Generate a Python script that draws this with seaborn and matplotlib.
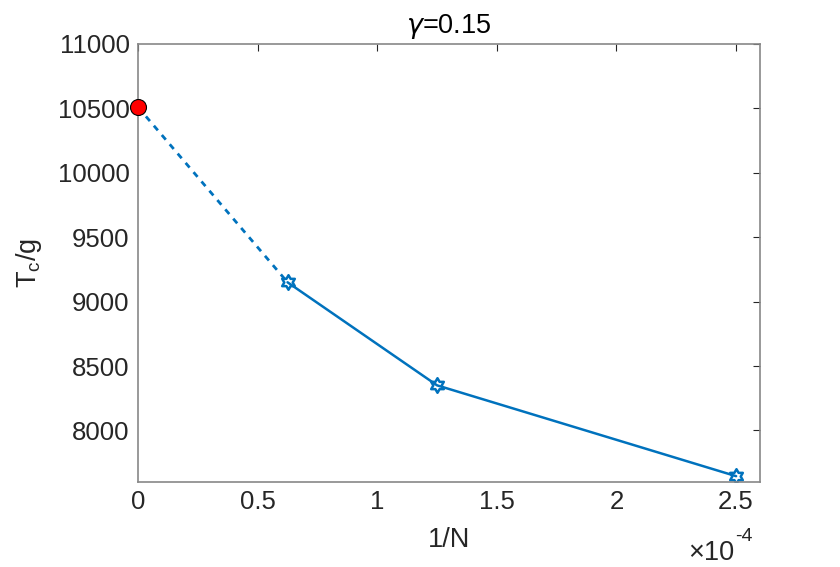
import numpy as np
import pandas as pd
import seaborn as sns
import matplotlib.pyplot as plt
from matplotlib.path import Path
from matplotlib.ticker import FixedLocator, FuncFormatter

sns.set_style("white")
plt.rcParams['font.family'] = ['Liberation Sans', 'DejaVu Sans']
plt.rcParams['mathtext.fontset'] = 'custom'
plt.rcParams['mathtext.rm'] = 'Liberation Sans'
plt.rcParams['mathtext.it'] = 'DejaVu Sans:italic'

# data
inv_n = [0.625e-4, 1.25e-4, 2.5e-4]
tc_g = [9150, 8350, 7645]
extrap_x = 0.0
extrap_y = 10510

xticks = [0, 0.5e-4, 1e-4, 1.5e-4, 2e-4, 2.5e-4]
xtick_labels = ['0', '0.5', '1', '1.5', '2', '2.5']
yticks = [8000, 8500, 9000, 9500, 10000, 10500, 11000]

blue = '#0072BD'
spine_col = '#888888'
text_col = '#262626'

# hexagram marker (two overlapping triangles, outline)
ang_out = np.deg2rad(90 + 60 * np.arange(6))
ang_in = np.deg2rad(120 + 60 * np.arange(6))
r_in = 1 / np.sqrt(3)
verts = []
for a, b in zip(ang_out, ang_in):
    verts.append((np.cos(a), np.sin(a)))
    verts.append((r_in * np.cos(b), r_in * np.sin(b)))
verts.append(verts[0])
hexagram = Path(verts, closed=True)

main_df = pd.DataFrame({'x': inv_n, 'y': tc_g})
dash_df = pd.DataFrame({'x': [extrap_x, inv_n[0]], 'y': [extrap_y, tc_g[0]]})

fig = plt.figure(figsize=(8.4, 5.67), dpi=100)
ax = fig.add_axes([0.1643, 0.15, 0.7405, 0.7724])

sns.lineplot(data=dash_df, x='x', y='y', ax=ax, color=blue, lw=2,
             linestyle=(0, (2.2, 2.2)), sort=False)
sns.lineplot(data=main_df, x='x', y='y', ax=ax, color=blue, lw=1.8,
             marker=hexagram, markersize=10.5, markerfacecolor='none',
             markeredgecolor=blue, markeredgewidth=1.8, sort=False)
ax.plot([extrap_x], [extrap_y], marker='o', ms=11.5, mfc='#ff0000',
        mec='black', mew=0.8, clip_on=False, zorder=5)

ax.set_xlim(0, 2.6e-4)
ax.set_ylim(7600, 11000)
ax.xaxis.set_major_locator(FixedLocator(xticks))
ax.xaxis.set_major_formatter(FuncFormatter(lambda v, p: xtick_labels[xticks.index(v)] if v in xticks else ''))
ax.set_yticks(yticks)

ax.tick_params(direction='in', length=5, width=0.8, top=True, right=True,
               labelsize=18.5, colors=text_col, pad=6)
for s in ax.spines.values():
    s.set_color(spine_col)
    s.set_linewidth(1.2)

ax.set_xlabel('1/N', fontsize=19.5, color=text_col, labelpad=9)
ax.set_ylabel(r'$\mathregular{T_c/g}$', fontsize=19.5, color=text_col, labelpad=10)
ax.set_title(r'$\gamma$=0.15', fontsize=19.5, color='black', pad=8)

# exponent note under the x axis
fig.text(0.874, 0.012, '\u00d710', fontsize=19.5, color=text_col,
         ha='right', va='baseline')
fig.text(0.875, 0.045, '-4', fontsize=14, color=text_col,
         ha='left', va='baseline')

fig.savefig('out.png', dpi=100, facecolor='white')
